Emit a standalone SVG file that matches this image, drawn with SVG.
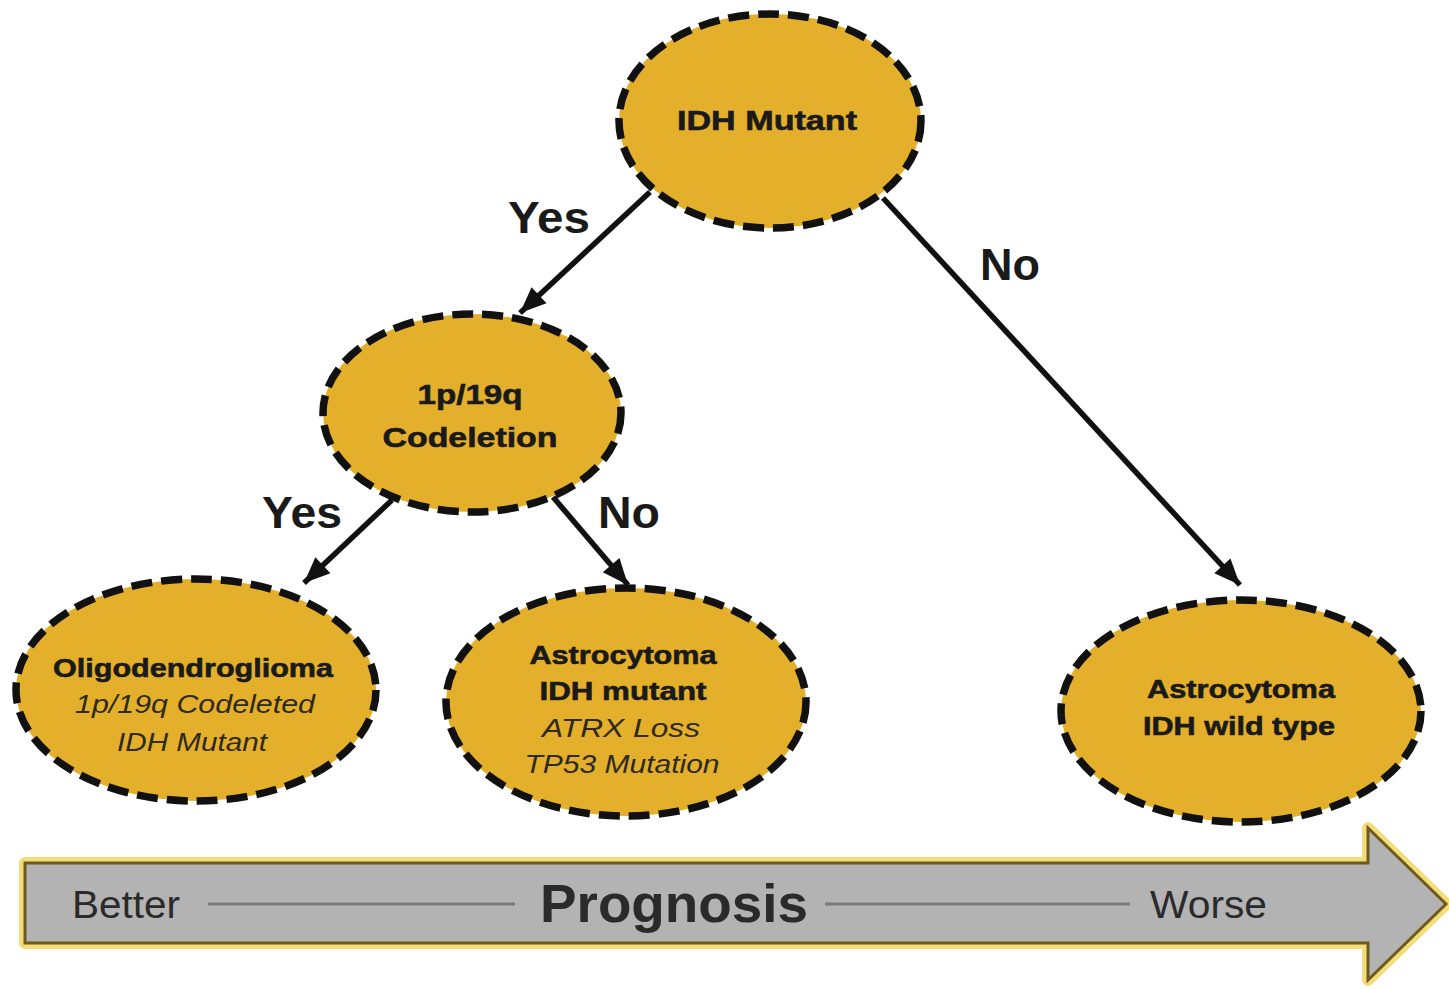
<svg xmlns="http://www.w3.org/2000/svg" width="1449" height="990" viewBox="0 0 1449 990">
<defs>
<style>
.node{fill:#E4AF2A;stroke:#111;stroke-width:7.5;stroke-dasharray:21 9}
.b{font-family:"Liberation Sans",Arial,sans-serif;font-weight:bold;fill:#1a1a1a;text-anchor:middle;stroke:#1a1a1a;stroke-width:0.6}
.i{font-family:"Liberation Sans",Arial,sans-serif;font-style:italic;fill:#2e2a20;text-anchor:middle}
.lbl{font-family:"Liberation Sans",Arial,sans-serif;font-weight:bold;font-size:44px;fill:#1a1a1a}
.conn{stroke:#111;stroke-width:5.5;fill:none;marker-end:url(#ah)}
.ax{font-family:"Liberation Sans",Arial,sans-serif;fill:#2a2a2a}
</style>
<marker id="ah" markerUnits="userSpaceOnUse" markerWidth="30" markerHeight="30" viewBox="0 0 30 30" refX="28" refY="15" orient="auto">
<path d="M2,4 L28,15 L2,26 Z" fill="#111"/>
</marker>
</defs>
<rect width="1449" height="990" fill="#fff"/>

<g id="connectors">
<line class="conn" x1="650" y1="192" x2="520" y2="313"/>
<line class="conn" x1="883" y1="198" x2="1240" y2="585"/>
<line class="conn" x1="392" y1="500" x2="304" y2="583"/>
<line class="conn" x1="553" y1="497" x2="628" y2="585"/>
<text class="lbl" x="508" y="233" textLength="82" lengthAdjust="spacingAndGlyphs">Yes</text>
<text class="lbl" x="980" y="280" textLength="60" lengthAdjust="spacingAndGlyphs">No</text>
<text class="lbl" x="262" y="528" textLength="80" lengthAdjust="spacingAndGlyphs">Yes</text>
<text class="lbl" x="598" y="528" textLength="62" lengthAdjust="spacingAndGlyphs">No</text>
</g>

<g id="n-idh">
<ellipse class="node" cx="770" cy="121" rx="151" ry="107"/>
<text class="b" x="767" y="130" font-size="28" textLength="180" lengthAdjust="spacingAndGlyphs">IDH Mutant</text>
</g>

<g id="n-codel">
<ellipse class="node" cx="472" cy="413" rx="149" ry="99"/>
<text class="b" x="470" y="404" font-size="28" textLength="105" lengthAdjust="spacingAndGlyphs">1p/19q</text>
<text class="b" x="470" y="447" font-size="28" textLength="175" lengthAdjust="spacingAndGlyphs">Codeletion</text>
</g>

<g id="n-oligo">
<ellipse class="node" cx="196" cy="690" rx="180" ry="111"/>
<text class="b" x="193" y="677" font-size="26" textLength="280" lengthAdjust="spacingAndGlyphs">Oligodendroglioma</text>
<text class="i" x="195" y="713" font-size="26" textLength="240" lengthAdjust="spacingAndGlyphs">1p/19q Codeleted</text>
<text class="i" x="192" y="751" font-size="26" textLength="150" lengthAdjust="spacingAndGlyphs">IDH Mutant</text>
</g>

<g id="n-astro-mut">
<ellipse class="node" cx="626" cy="702" rx="180" ry="114"/>
<text class="b" x="623" y="664" font-size="26" textLength="187" lengthAdjust="spacingAndGlyphs">Astrocytoma</text>
<text class="b" x="623" y="700" font-size="26" textLength="167" lengthAdjust="spacingAndGlyphs">IDH mutant</text>
<text class="i" x="621" y="737" font-size="26" textLength="158" lengthAdjust="spacingAndGlyphs">ATRX Loss</text>
<text class="i" x="622" y="773" font-size="26" textLength="195" lengthAdjust="spacingAndGlyphs">TP53 Mutation</text>
</g>

<g id="n-astro-wt">
<ellipse class="node" cx="1241" cy="711" rx="180" ry="111"/>
<text class="b" x="1241" y="698" font-size="26" textLength="188" lengthAdjust="spacingAndGlyphs">Astrocytoma</text>
<text class="b" x="1239" y="735" font-size="26" textLength="192" lengthAdjust="spacingAndGlyphs">IDH wild type</text>
</g>

<g id="prognosis-arrow">
<polygon points="25,863 1368,863 1368,828 1446,904 1368,980 1368,943 25,943" fill="#B3B3B3" stroke="#F3D862" stroke-width="12" stroke-linejoin="round" opacity="0.85"/>
<polygon points="25,863 1368,863 1368,828 1446,904 1368,980 1368,943 25,943" fill="#B3B3B3" stroke="#6E5A1C" stroke-width="3"/>
<line x1="208" y1="904" x2="515" y2="904" stroke="#7a7a7a" stroke-width="3"/>
<line x1="825" y1="904" x2="1130" y2="904" stroke="#7a7a7a" stroke-width="3"/>
<text class="ax" x="72" y="918" font-size="39" textLength="108" lengthAdjust="spacingAndGlyphs">Better</text>
<text class="ax" x="1150" y="918" font-size="39" textLength="117" lengthAdjust="spacingAndGlyphs">Worse</text>
<text class="ax" x="540" y="922" font-size="53" font-weight="bold" fill="#151515" textLength="268" lengthAdjust="spacingAndGlyphs">Prognosis</text>
</g>
</svg>
